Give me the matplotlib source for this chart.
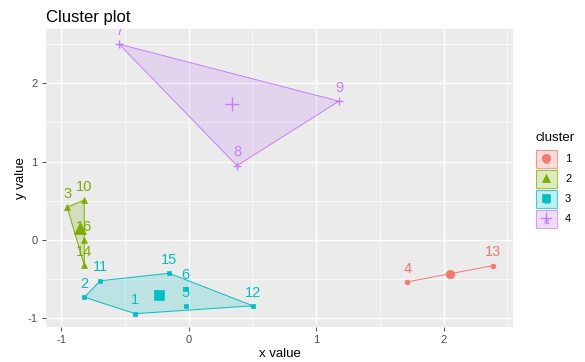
import matplotlib
matplotlib.use('Agg')
import matplotlib.pyplot as plt
import numpy as np
from matplotlib.patches import Polygon, Rectangle
from matplotlib.lines import Line2D

plt.rcParams['font.family'] = ['Liberation Sans', 'DejaVu Sans']

# ---- data ----
obs_ids = ['1', '2', '3', '4', '5', '6', '7', '8', '9', '10', '11', '12', '13', '14', '15', '16']
x_vals = [-0.42, -0.82, -0.954, 1.715, -0.024, -0.024, -0.547, 0.379, 1.179, -0.82, -0.693, 0.505, 2.387, -0.82, -0.154, -0.82]
y_vals = [-0.94, -0.73, 0.416, -0.535, -0.84, -0.62, 2.497, 0.947, 1.77, 0.51, -0.52, -0.84, -0.327, -0.318, -0.425, 0.0]
cluster = [3, 3, 2, 1, 3, 3, 4, 4, 4, 2, 3, 3, 1, 2, 3, 2]

cluster_names = ['1', '2', '3', '4']
colors = ['#F8766D', '#7CAE00', '#00BFC4', '#C77CFF']
markers = ['o', '^', 's', '+']
x_ticks = [-1, 0, 1, 2]
y_ticks = [-1, 0, 1, 2]

W, H = 585, 362
fig = plt.figure(figsize=(W / 100, H / 100), dpi=100)
ax = fig.add_axes([46 / W, 1 - 327 / H, (513 - 46) / W, (327 - 29) / H])
ax.set_facecolor('#EBEBEB')
ax.set_xlim(-1.12, 2.545)
ax.set_ylim(-1.11, 2.69)

for v in x_ticks:
    ax.axvline(v, color='white', lw=1.0, zorder=0)
for v in np.arange(-0.5, 2.6, 1.0):
    ax.axvline(v, color='white', lw=0.5, zorder=0)
for v in y_ticks:
    ax.axhline(v, color='white', lw=1.0, zorder=0)
for v in np.arange(-0.5, 2.6, 1.0):
    ax.axhline(v, color='white', lw=0.5, zorder=0)

for s in ax.spines.values():
    s.set_visible(False)
ax.set_xticks(x_ticks)
ax.set_yticks(y_ticks)
ax.set_xticklabels([str(t) for t in x_ticks])
ax.set_yticklabels([str(t) for t in y_ticks])
ax.tick_params(axis='both', length=3, width=0.6, color='#333333', labelsize=8,
               labelcolor='#4D4D4D', pad=3)


def hull(pts):
    pts = sorted(set(pts))
    if len(pts) <= 2:
        return pts
    def cross(o, a, b):
        return (a[0] - o[0]) * (b[1] - o[1]) - (a[1] - o[1]) * (b[0] - o[0])
    lower, upper = [], []
    for p in pts:
        while len(lower) >= 2 and cross(lower[-2], lower[-1], p) <= 0:
            lower.pop()
        lower.append(p)
    for p in reversed(pts):
        while len(upper) >= 2 and cross(upper[-2], upper[-1], p) <= 0:
            upper.pop()
        upper.append(p)
    return lower[:-1] + upper[:-1]


x_arr = np.array(x_vals)
y_arr = np.array(y_vals)
c_arr = np.array(cluster)

small_ms = {'o': 3.5, '^': 4.0, 's': 3.5, '+': 5.5}
big_ms = {'o': 6.0, '^': 8.0, 's': 6.5, '+': 10.0}

for k, name in enumerate(cluster_names):
    cid = k + 1
    mask = c_arr == cid
    xs, ys = x_arr[mask], y_arr[mask]
    col = colors[k]
    m = markers[k]
    h = hull(list(zip(xs, ys)))
    if len(h) >= 3:
        poly = Polygon(h, closed=True, facecolor=col, alpha=0.2, edgecolor='none', zorder=1)
        ax.add_patch(poly)
        hx = [p[0] for p in h] + [h[0][0]]
        hy = [p[1] for p in h] + [h[0][1]]
        ax.plot(hx, hy, color=col, lw=0.7, zorder=2)
    else:
        ax.plot([p[0] for p in h], [p[1] for p in h], color=col, lw=0.7, zorder=2)
    ax.plot(xs, ys, linestyle='none', marker=m, color=col, ms=small_ms[m],
            mew=1.0 if m == '+' else 0.5, zorder=3)
    for xi, yi, lab in zip(xs, ys, np.array(obs_ids)[mask]):
        ax.annotate(lab, (xi, yi), xytext=(0, 4.5), textcoords='offset points',
                    ha='center', va='bottom', fontsize=10.5, color=col, zorder=4,
                    annotation_clip=False, clip_on=True)
    ax.plot([xs.mean()], [ys.mean()], linestyle='none', marker=m, color=col,
            ms=big_ms[m], mew=1.0 if m == '+' else 0.5, zorder=5)

# titles
fig.text(46 / W, 1 - 22 / H, 'Cluster plot', fontsize=12, color='black', va='baseline', ha='left')
fig.text((46 + 513) / 2 / W, 1 - 354 / H, 'x value', fontsize=9.5, ha='center', va='center')
fig.text(21 / W, 1 - 178 / H, 'y value', fontsize=9.5, ha='center', va='center', rotation=90)

# legend (drawn manually, ggplot-style)
fig.text(535 / W, 1 - 138 / H, 'cluster', fontsize=9.5, ha='left', va='center')
key_top = [150, 169.5, 189.5, 209.5]
for k, name in enumerate(cluster_names):
    col = colors[k]
    y0 = key_top[k]
    rect = Rectangle((535.5 / W, 1 - (y0 + 18) / H), 21 / W, 18 / H, transform=fig.transFigure,
                     facecolor=col, alpha=0.25, edgecolor='none')
    fig.patches.append(rect)
    rect2 = Rectangle((535.5 / W, 1 - (y0 + 18) / H), 21 / W, 18 / H, transform=fig.transFigure,
                      facecolor='none', edgecolor=col, lw=0.8, alpha=0.7)
    fig.patches.append(rect2)
    fig.text(546 / W, 1 - (y0 + 11) / H, 'a', fontsize=7, color=col, ha='center', va='center')
    ln = Line2D([546 / W], [1 - (y0 + 8) / H], transform=fig.transFigure, marker=markers[k],
                color=col, ms=6 if markers[k] != '+' else 8, mew=1.0 if markers[k] == '+' else 0.5,
                linestyle='none')
    fig.lines.append(ln)
    fig.text(565 / W, 1 - (y0 + 9) / H, name, fontsize=8, ha='left', va='center')

fig.savefig('out.png', dpi=100)
